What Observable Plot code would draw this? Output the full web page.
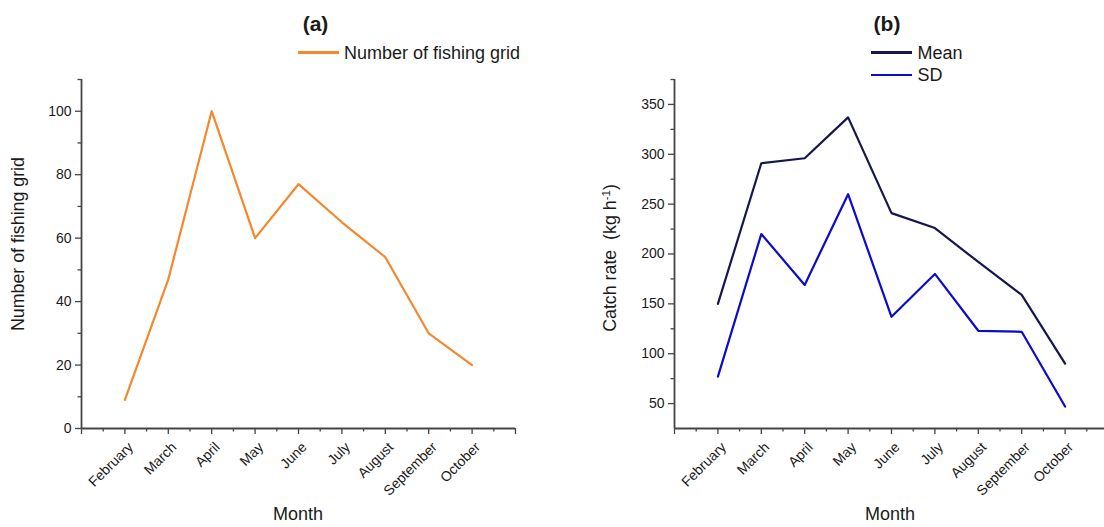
<!DOCTYPE html>
<html><head><meta charset="utf-8">
<script src="https://cdn.jsdelivr.net/npm/d3@7"></script>
<script src="https://cdn.jsdelivr.net/npm/@observablehq/plot@0.6"></script>
<style>
body{margin:0;background:#fff;font-family:"Liberation Sans",Arial,sans-serif;}
#wrap{position:relative;width:1104px;height:527px;overflow:hidden;background:#fff;}
#wrap svg{position:absolute;top:0;}
#wrap svg text{font-size:14px !important;font-family:"Liberation Sans",Arial,sans-serif !important;}
.t{position:absolute;white-space:nowrap;color:#1a1a1a;line-height:1;}
.sw{position:absolute;height:2.6px;}
sup{font-size:11.5px;vertical-align:6px;line-height:0;}
</style></head><body><div id="wrap"></div>
<script>
// ---- data ----
const months = ["February","March","April","May","June","July","August","September","October"];
const gridCount = [9, 47, 100, 60, 77, 65, 54, 30, 20];
const catchMean = [150, 291, 296, 337, 241, 226, 192, 159, 90];
const catchSD   = [77, 220, 169, 260, 137, 180, 123, 122, 47];
const yTicksA = [0, 20, 40, 60, 80, 100];
const yMinorA = [10, 30, 50, 70, 90, 110];
const yTicksB = [50, 100, 150, 200, 250, 300, 350];
const yMinorB = [75, 125, 175, 225, 275, 325, 375];

const colA = "#F5872E", colMean = "#16164F", colSD = "#0B0BCB";
const axisCol = "#454545", textCol = "#1a1a1a";
const idx = months.map((m, i) => i + 1);
const xMajor = [0, ...idx, months.length + 1];
const xMinor = xMajor.slice(0, -1).map(v => v + 0.5);
const font = "Liberation Sans, Arial, sans-serif";

const rowsA = months.map((m, i) => ({x: i + 1, v: gridCount[i]}));
const rowsB = months.flatMap((m, i) => [
  {x: i + 1, v: catchMean[i], s: "Mean"},
  {x: i + 1, v: catchSD[i], s: "SD"}
]);
const labelRows = months.map((m, i) => ({x: i + 1, m}));

function axes(yMaj, yMin, y0) {
  return [
    Plot.axisY({ticks: yMaj, tickSize: 6, tickPadding: 4, label: null, stroke: axisCol, strokeWidth: 1.3, fill: textCol}),
    Plot.axisY({ticks: yMin, tickSize: 3.5, tickFormat: () => "", label: null, stroke: axisCol, strokeWidth: 1.3}),
    Plot.axisX({ticks: xMajor, tickSize: 6, tickFormat: () => "", label: null, stroke: axisCol, strokeWidth: 1.3}),
    Plot.axisX({ticks: xMinor, tickSize: 3.5, tickFormat: () => "", label: null, stroke: axisCol, strokeWidth: 1.3}),
    Plot.text(labelRows, {x: "x", text: "m", frameAnchor: "bottom", rotate: -45, textAnchor: "end", dx: 9, dy: 19.5, fill: textCol}),
    Plot.ruleX([0], {stroke: axisCol, strokeWidth: 1.8}),
    Plot.ruleY([y0], {stroke: axisCol, strokeWidth: 1.8})
  ];
}

const plotA = Plot.plot({
  width: 552, height: 527,
  marginLeft: 81, marginRight: 37, marginTop: 79, marginBottom: 99,
  x: {domain: [0, months.length + 1]},
  y: {domain: [0, 110]},
  style: {fontFamily: font, fontSize: "14px", overflow: "visible", background: "transparent"},
  marks: [
    ...axes(yTicksA, yMinorA, 0),
    Plot.line(rowsA, {x: "x", y: "v", stroke: colA, strokeWidth: 2.2})
  ]
});

const plotB = Plot.plot({
  width: 556, height: 527,
  marginLeft: 122, marginRight: 0, marginTop: 79, marginBottom: 99,
  x: {domain: [0, months.length + 1]},
  y: {domain: [25, 375]},
  color: {domain: ["Mean", "SD"], range: [colMean, colSD]},
  style: {fontFamily: font, fontSize: "14px", overflow: "visible", background: "transparent"},
  marks: [
    ...axes(yTicksB, yMinorB, 25),
    Plot.line(rowsB, {x: "x", y: "v", z: "s", stroke: "s", strokeWidth: 2.2})
  ]
});

const wrap = document.getElementById("wrap");
plotA.style.left = "0px";
plotB.style.left = "552px";
wrap.append(plotA, plotB);

function txt(html, css) {
  const d = document.createElement("div");
  d.className = "t"; d.innerHTML = html;
  Object.assign(d.style, css);
  wrap.append(d);
}
function sw(color, css) {
  const d = document.createElement("div");
  d.className = "sw"; d.style.background = color;
  Object.assign(d.style, css);
  wrap.append(d);
}
// titles
txt("(a)", {left: "315.5px", top: "13px", transform: "translateX(-50%)", fontSize: "21px", fontWeight: "bold"});
txt("(b)", {left: "887px", top: "13px", transform: "translateX(-50%)", fontSize: "21px", fontWeight: "bold"});
// legends
sw(colA, {left: "297.5px", width: "41px", top: "51px"});
txt("Number of fishing grid", {left: "344px", top: "43.8px", fontSize: "18px"});
sw(colMean, {left: "870.5px", width: "41px", top: "51px"});
txt("Mean", {left: "917.4px", top: "43.8px", fontSize: "18px"});
sw(colSD, {left: "870.5px", width: "41px", top: "73.7px"});
txt("SD", {left: "917.4px", top: "66px", fontSize: "18px"});
// axis titles
txt("Month", {left: "298px", top: "505px", transform: "translateX(-50%)", fontSize: "18px"});
txt("Month", {left: "890px", top: "505px", transform: "translateX(-50%)", fontSize: "18px"});
txt("Number of fishing grid", {left: "18.5px", top: "244px", transform: "translate(-50%,-50%) rotate(-90deg)", fontSize: "17.8px"});
txt("Catch rate&nbsp; (kg h<sup>-1</sup>)", {left: "611px", top: "258px", transform: "translate(-50%,-50%) rotate(-90deg)", fontSize: "17.8px"});
</script></body></html>
